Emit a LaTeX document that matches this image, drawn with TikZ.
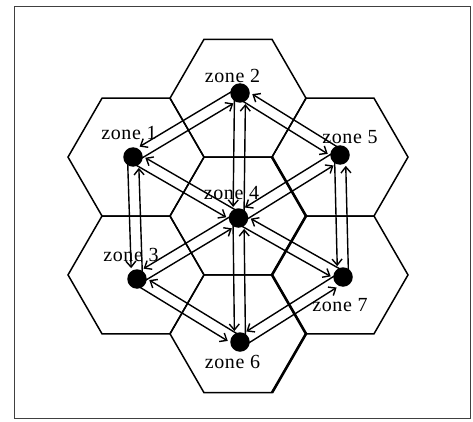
\documentclass[tikz,border=0pt]{standalone}
\usepackage{fontspec}
\setmainfont{Liberation Serif}
\usetikzlibrary{calc,arrows.meta}
\tikzset{
 hexline/.style={line width=1.5pt},
 thickhex/.style={line width=2.6pt},
 zonedot/.style={circle,fill=black,inner sep=0pt,minimum size=19.5pt},
 zonelabel/.style={font=\fontsize{20}{24}\selectfont\addfontfeature{LetterSpace=3},anchor=base,inner sep=0pt},
 flow/.style={line width=1.4pt,-{Straight Barb[length=6pt,width=10pt]},shorten >=11pt},
 frameline/.style={line width=0.9pt,draw=black!75}
}
\newcommand\twoway[2]{%
 \draw[flow] ($(#1)!5.5pt!-90:(#2)$) -- ($(#2)!5.5pt!90:(#1)$);
 \draw[flow] ($(#2)!5.5pt!-90:(#1)$) -- ($(#1)!5.5pt!90:(#2)$);}
\begin{document}
\begin{tikzpicture}[x=1pt,y=-1pt]
\useasboundingbox (0,0) rectangle (473,422);
\draw[frameline] (14,6.5) rectangle (470.5,418);
% hexagons
\foreach \cx/\cy in {238/216, 238/98.2, 238/333.8, 136/157.1, 340/157.1, 136/274.9, 340/274.9}{
 \draw[hexline] (\cx+68,\cy) -- (\cx+34,\cy+58.9) -- (\cx-34,\cy+58.9) -- (\cx-68,\cy) -- (\cx-34,\cy-58.9) -- (\cx+34,\cy-58.9) -- cycle;
}
\draw[thickhex] (272,157.1) -- (306,216) -- (272,274.9) -- (306,333.8) -- (272,392.7);
% zone centres
\coordinate (z1) at (133,157);
\coordinate (z2) at (240,93);
\coordinate (z5) at (340,155);
\coordinate (z4) at (238.5,218);
\coordinate (z3) at (137,279);
\coordinate (z7) at (343,277);
\coordinate (z6) at (240,342);
% two-way connections
\twoway{z1}{z2}
\twoway{z2}{z5}
\twoway{z1}{z3}
\twoway{z5}{z7}
\twoway{z1}{z4}
\twoway{z5}{z4}
\twoway{z3}{z4}
\twoway{z7}{z4}
\twoway{z3}{z6}
\twoway{z7}{z6}
\twoway{z2}{z4}
\twoway{z4}{z6}
% dots
\foreach \i in {1,...,7}{\node[zonedot] (d\i) at (z\i) {};}
% labels
\node[zonelabel] (l1) at (129,140) {zone 1};
\node[zonelabel] (l2) at (232.5,83) {zone 2};
\node[zonelabel] (l5) at (350,143) {zone 5};
\node[zonelabel] (l4) at (231.5,199) {zone 4};
\node[zonelabel] (l3) at (131,261.5) {zone 3};
\node[zonelabel] (l7) at (340,311.5) {zone 7};
\node[zonelabel] (l6) at (232.5,368) {zone 6};
\end{tikzpicture}
\end{document}
